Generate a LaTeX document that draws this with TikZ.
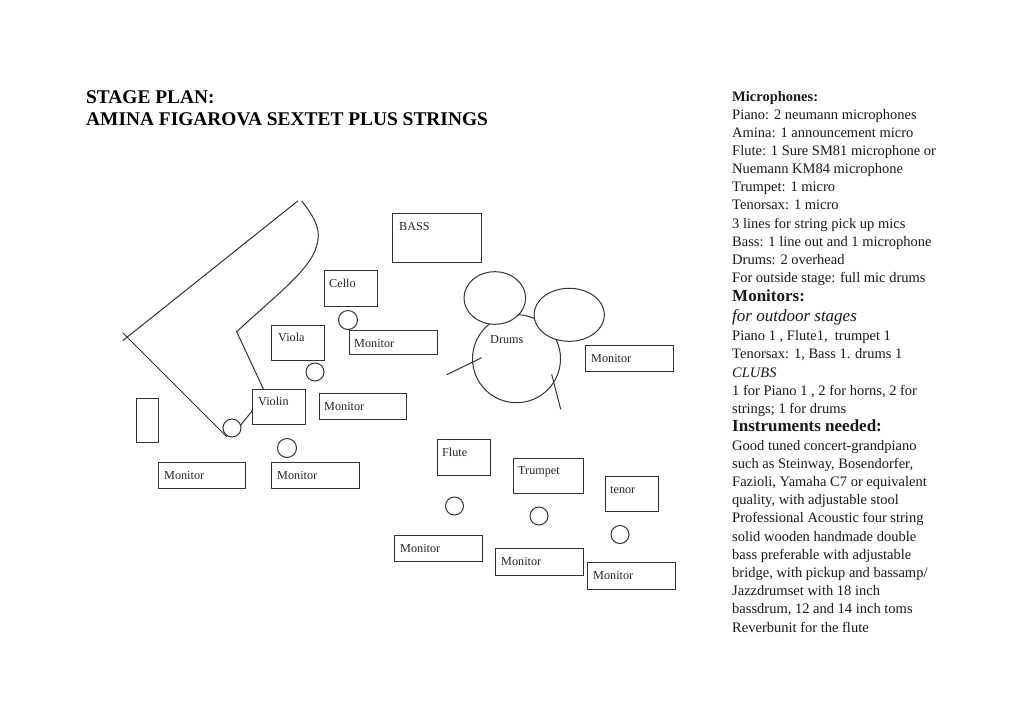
\documentclass[tikz,border=0pt]{standalone}
\usepackage{fontspec}
\setmainfont{Liberation Serif}
\usetikzlibrary{shapes.geometric}
\tikzset{
  x=1pt,y=-1pt,
  ln/.style={draw=black!80,line width=1pt},
  bx/.style={ln,rectangle,inner sep=0pt,anchor=north west},
  lbl/.style={anchor=base west,inner sep=0pt,font=\fontsize{12.2}{14}\selectfont,text=black!85},
  circ/.style={ln,circle,inner sep=0pt,fill=white},
  ell/.style={ln,ellipse,inner sep=0pt,fill=white},
  side/.style={anchor=base west,inner sep=0pt,font=\fontsize{14.5}{16}\selectfont,text=black!90},
  sideb/.style={side,font=\fontsize{14.5}{16}\selectfont\bfseries},
  head/.style={side,font=\fontsize{17}{18}\selectfont\bfseries},
  headi/.style={side,font=\fontsize{17}{18}\selectfont\itshape},
  sidei/.style={side,font=\fontsize{14.5}{16}\selectfont\itshape},
  ttl/.style={anchor=base west,inner sep=0pt,font=\fontsize{19.4}{21}\selectfont\bfseries}
}
\begin{document}
\begin{tikzpicture}
\useasboundingbox[fill=white] (0,0) rectangle (1024,723);
% title
\node[ttl] (t1) at (86,103.7) {STAGE PLAN:};
\node[ttl] (t2) at (86,125.2) {AMINA FIGAROVA SEXTET PLUS STRINGS};
% piano
\draw[ln] (297.7,201) -- (122.7,340.7);
\draw[ln] (122.7,332.7) -- (226.7,436.7);
\draw[ln] (301.7,201) .. controls (312,214) and (318.3,225) .. (318.3,235)
  .. controls (318.3,264) and (285,287) .. (236.7,331.7) -- (263.3,389);
% drums
\node[ln,circle,inner sep=0pt,minimum size=88pt] (kick) at (516.5,358.7) {};
\node[ell,minimum width=61.6pt,minimum height=52.6pt] (tomA) at (494.8,298) {};
\node[ell,minimum width=70.4pt,minimum height=53pt] (tomB) at (569.2,314.8) {};
\draw[ln] (446.7,374.7) -- (481.7,357.7);
\draw[ln] (551.7,374.3) -- (560.7,409.3);
% boxes
\node[bx,minimum width=88.5pt,minimum height=48.5pt] (bass) at (392,213) {};
\node[bx,minimum width=52.5pt,minimum height=35.5pt] (cello) at (324,270) {};
\node[bx,minimum width=52.5pt,minimum height=34.5pt] (viola) at (271,325) {};
\node[bx,minimum width=87.5pt,minimum height=23.5pt] (m1) at (349,330) {};
\node[bx,minimum width=52.5pt,minimum height=34.5pt] (violin) at (252,389) {};
\node[bx,minimum width=86.5pt,minimum height=25.5pt] (m2) at (319,393) {};
\node[bx,minimum width=21.5pt,minimum height=43.5pt] (stool) at (136,398) {};
\node[bx,minimum width=86.5pt,minimum height=25.5pt] (m3) at (158,462) {};
\node[bx,minimum width=87.5pt,minimum height=25.5pt] (m4) at (271,462) {};
\node[bx,minimum width=52.5pt,minimum height=35.5pt] (flute) at (437,439) {};
\node[bx,minimum width=69.5pt,minimum height=34.5pt] (trumpet) at (513,458) {};
\node[bx,minimum width=52.5pt,minimum height=34.5pt] (tenor) at (605,476) {};
\node[bx,minimum width=87.5pt,minimum height=25.5pt] (m5) at (394,535) {};
\node[bx,minimum width=87.5pt,minimum height=26.5pt] (m6) at (495,548) {};
\node[bx,minimum width=87.5pt,minimum height=26.5pt] (m7) at (587,562) {};
\node[bx,minimum width=87.5pt,minimum height=25.5pt] (m8) at (585,345) {};
% mics
\node[circ,minimum size=19pt] (c1) at (348,320) {};
\node[circ,minimum size=18pt] (c2) at (315,372) {};
\node[circ,minimum size=18pt] (c3) at (232,428) {};
\node[circ,minimum size=19pt] (c4) at (287,448) {};
\node[circ,minimum size=18pt] (c5) at (454.5,506) {};
\node[circ,minimum size=18pt] (c6) at (539,516) {};
\node[circ,minimum size=18pt] (c7) at (620,534.5) {};
\coordinate (vl) at (252.3,410.7);
\draw[ln] (c3.20) -- (vl);
% labels
\node[lbl] (lbass) at (399,230) {BASS};
\node[lbl] (lcello) at (329,287) {Cello};
\node[lbl] (lviola) at (278,341) {Viola};
\node[lbl] (lm1) at (354,347) {Monitor};
\node[lbl] (lviolin) at (258,405) {Violin};
\node[lbl] (lm2) at (324,410) {Monitor};
\node[lbl] (lm3) at (164,479) {Monitor};
\node[lbl] (lm4) at (277,479) {Monitor};
\node[lbl] (lflute) at (442,456) {Flute};
\node[lbl] (ltrumpet) at (518,474) {Trumpet};
\node[lbl] (ltenor) at (610,493) {tenor};
\node[lbl] (lm5) at (400,552) {Monitor};
\node[lbl] (lm6) at (501,565) {Monitor};
\node[lbl] (lm7) at (593,579) {Monitor};
\node[lbl] (lm8) at (591,362) {Monitor};
\node[lbl] (ldrums) at (490,343) {Drums};
% side column
\node[sideb] (s1) at (732,101) {Microphones:};
\node[side] (s2) at (732,119) {Piano: 2 neumann microphones};
\node[side] (s3) at (732,137) {Amina: 1 announcement micro};
\node[side] (s4) at (732,155.2) {Flute: 1 Sure SM81 microphone or};
\node[side] (s5) at (732,173.5) {Nuemann KM84 microphone};
\node[side] (s6) at (732,191.7) {Trumpet: 1 micro};
\node[side] (s7) at (732,209.8) {Tenorsax: 1 micro};
\node[side] (s8) at (732,228) {3 lines for string pick up mics};
\node[side] (s9) at (732,246.3) {Bass: 1 line out and 1 microphone};
\node[side] (s10) at (732,264.5) {Drums: 2 overhead};
\node[side] (s11) at (732,282.7) {For outside stage: full mic drums};
\node[head] (s12) at (732,301) {Monitors:};
\node[headi] (s13) at (732,321) {for outdoor stages};
\node[side] (s14) at (732,340.5) {Piano 1 , Flute1,\ \ trumpet 1};
\node[side] (s15) at (732,358.7) {Tenorsax: 1, Bass 1. drums 1};
\node[sidei] (s16) at (732,377) {CLUBS};
\node[side] (s17) at (732,395) {1 for Piano 1 , 2 for horns, 2 for};
\node[side] (s18) at (732,413) {strings; 1 for drums};
\node[head] (s19) at (732,431) {Instruments needed:};
\node[side] (s20) at (732,450) {Good tuned concert-grandpiano};
\node[side] (s21) at (732,468.2) {such as Steinway, Bosendorfer,};
\node[side] (s22) at (732,486.4) {Fazioli, Yamaha C7 or equivalent};
\node[side] (s23) at (732,504.6) {quality, with adjustable stool};
\node[side] (s24) at (732,522.8) {Professional Acoustic four string};
\node[side] (s25) at (732,541) {solid wooden handmade double};
\node[side] (s26) at (732,559.2) {bass preferable with adjustable};
\node[side] (s27) at (732,577.4) {bridge, with pickup and bassamp/};
\node[side] (s28) at (732,595.6) {Jazzdrumset with 18 inch};
\node[side] (s29) at (732,613.8) {bassdrum, 12 and 14 inch toms};
\node[side] (s30) at (732,632) {Reverbunit for the flute};
\end{tikzpicture}
\end{document}
